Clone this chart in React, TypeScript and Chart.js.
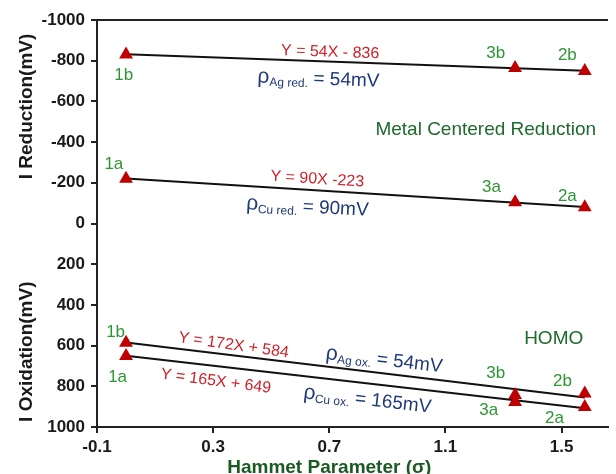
import React, { useEffect, useRef } from "react";
import { Chart, registerables } from "chart.js";
Chart.register(...registerables);

// Hammett sigma of the compounds 1, 3, 2
const hammettSigma = [0.0, 1.34, 1.58];
// Metal-centred reduction potentials (mV)
const agReduction = [-830, -764, -750];
const cuReduction = [-220, -104, -80];
// HOMO oxidation potentials (mV)
const agOxidation = [586, 843, 835];
const cuOxidation = [651, 877, 902];
// Trend lines (end points)
const fitSigma = [0.0, 1.58];
const agReductionFit = [-832, -751];
const cuReductionFit = [-221, -81];
const agOxidationFit = [585, 855];
const cuOxidationFit = [650, 908];

const xTicks = [-0.1, 0.3, 0.7, 1.1, 1.5];
const yTicks = [-1000, -800, -600, -400, -200, 0, 200, 400, 600, 800, 1000];

const FONT = '"Liberation Sans", Arial, sans-serif';
const RED = "#cc2229";
const BLUE = "#1f3a78";
const GREEN = "#2e9634";
const DKGREEN = "#1e6a2c";
const TITLE_GREEN = "#1b5a22";
const MARK = "#c00000";

type Part = { t: string; size: number; dy?: number };
type Note = { x: number; y: number; rot: number; color: string; parts: Part[] };

const lbl = (t: string, x: number, y: number): Note => ({ x, y, rot: 0, color: GREEN, parts: [{ t, size: 17 }] });
const eq = (t: string, x: number, y: number, rot: number): Note => ({ x, y, rot, color: RED, parts: [{ t, size: 16 }] });
const rho = (sub: string, rest: string, x: number, y: number, rot: number): Note => ({
  x, y, rot, color: BLUE,
  parts: [{ t: "ρ", size: 21 }, { t: sub, size: 12, dy: 3 }, { t: rest, size: 19 }],
});

const notes: Note[] = [
  lbl("1b", -0.008, -735), lbl("3b", 1.273, -843), lbl("2b", 1.52, -833),
  lbl("1a", -0.042, -297), lbl("3a", 1.259, -184), lbl("2a", 1.52, -140),
  lbl("1b", -0.036, 528), lbl("1a", -0.029, 749),
  lbl("3b", 1.273, 730), lbl("2b", 1.503, 769), lbl("3a", 1.249, 912), lbl("2a", 1.476, 951),
  { x: 1.239, y: -469, rot: 0, color: DKGREEN, parts: [{ t: "Metal Centered Reduction", size: 19 }] },
  { x: 1.473, y: 558, rot: 0, color: DKGREEN, parts: [{ t: "HOMO", size: 19 }] },
  eq("Y = 54X - 836", 0.703, -848, 2),
  eq("Y = 90X -223", 0.659, -224, 3.5),
  eq("Y = 172X + 584", 0.371, 592, 8),
  eq("Y = 165X + 649", 0.31, 769, 7.5),
  rho("Ag red.", " = 54mV", 0.663, -720, 2),
  rho("Cu red.", " = 90mV", 0.625, -91, 3),
  rho("Ag ox.", " = 54mV", 0.89, 661, 6.5),
  rho("Cu ox.", " = 165mV", 0.832, 857, 6.5),
];

function drawParts(ctx: CanvasRenderingContext2D, cx: number, cy: number, rot: number, parts: Part[], color: string, weight = "normal") {
  ctx.save();
  ctx.translate(cx, cy);
  ctx.rotate((rot * Math.PI) / 180);
  let total = 0;
  const widths = parts.map((p) => {
    ctx.font = `${weight} ${p.size}px ${FONT}`;
    const w = ctx.measureText(p.t).width;
    total += w;
    return w;
  });
  const main = Math.max(...parts.map((p) => p.size));
  const base = main * 0.36;
  let x = -total / 2;
  ctx.fillStyle = color;
  ctx.textBaseline = "alphabetic";
  ctx.textAlign = "left";
  parts.forEach((p, i) => {
    ctx.font = `${weight} ${p.size}px ${FONT}`;
    ctx.fillText(p.t, x, base + (p.dy || 0));
    x += widths[i];
  });
  ctx.restore();
}

const decorPlugin = {
  id: "decor",
  afterDatasetsDraw(chart: any) {
    const ctx = chart.ctx as CanvasRenderingContext2D;
    const { left, right, top } = chart.chartArea;
    const xs = chart.scales.x;
    const ys = chart.scales.y;
    ctx.save();
    ctx.strokeStyle = "#222";
    ctx.lineWidth = 2;
    ctx.beginPath();
    ctx.moveTo(left, top);
    ctx.lineTo(right, top);
    ctx.stroke();
    ctx.restore();
    notes.forEach((n) => {
      drawParts(ctx, xs.getPixelForValue(n.x), ys.getPixelForValue(n.y), n.rot, n.parts, n.color);
    });
    // axis titles
    drawParts(ctx, left - 72, ys.getPixelForValue(-575), -90, [{ t: "I Reduction(mV)", size: 19 }], "#1a1a1a", "bold");
    drawParts(ctx, left - 72, ys.getPixelForValue(630), -90, [{ t: "I Oxidation(mV)", size: 19 }], "#1a1a1a", "bold");
    drawParts(ctx, xs.getPixelForValue(0.7), chart.height - 8, 0, [{ t: "Hammet Parameter (σ)", size: 19 }], TITLE_GREEN, "bold");
  },
};

export default function App() {
  const ref = useRef<HTMLCanvasElement>(null);
  useEffect(() => {
    if (!ref.current) return;
    const pts = (ys: number[]) => hammettSigma.map((x, i) => ({ x, y: ys[i] }));
    const fit = (ys: number[]) => fitSigma.map((x, i) => ({ x, y: ys[i] }));
    const markerDs = (label: string, ys: number[]) => ({
      label, data: pts(ys), showLine: false, pointStyle: "triangle", pointRadius: 8,
      pointBackgroundColor: MARK, pointBorderColor: MARK, pointBorderWidth: 0, order: 0,
    });
    const lineDs = (label: string, ys: number[]) => ({
      label, data: fit(ys), showLine: true, borderColor: "#111", borderWidth: 2, pointRadius: 0, fill: false, order: 1,
    });
    const tickFont = { family: FONT, size: 17, weight: "bold" as const };
    const chart = new Chart(ref.current, {
      type: "scatter",
      data: {
        datasets: [
          lineDs("Ag red. fit", agReductionFit),
          lineDs("Cu red. fit", cuReductionFit),
          lineDs("Ag ox. fit", agOxidationFit),
          lineDs("Cu ox. fit", cuOxidationFit),
          markerDs("Ag reduction", agReduction),
          markerDs("Cu reduction", cuReduction),
          markerDs("Ag oxidation", agOxidation),
          markerDs("Cu oxidation", cuOxidation),
        ] as any,
      },
      options: {
        animation: false,
        responsive: false,
        layout: { padding: { top: 20, right: 0, left: 0, bottom: 0 } },
        plugins: { legend: { display: false }, tooltip: { enabled: false } },
        scales: {
          x: {
            type: "linear",
            min: -0.1,
            max: 1.66,
            afterBuildTicks: (s: any) => { s.ticks = xTicks.map((v) => ({ value: v })); },
            afterFit: (s: any) => { s.height = 47; },
            ticks: { font: tickFont, color: "#1a1a1a", padding: 4, maxRotation: 0, callback: (v: any) => String(v) },
            grid: { drawOnChartArea: false, drawTicks: true, tickLength: 6, color: "#222", lineWidth: 2 },
            border: { display: true, color: "#222", width: 2 },
          },
          y: {
            type: "linear",
            reverse: true,
            min: -1000,
            max: 1000,
            afterBuildTicks: (s: any) => { s.ticks = yTicks.map((v) => ({ value: v })); },
            afterFit: (s: any) => { s.width = 97; },
            ticks: { font: tickFont, color: "#1a1a1a", padding: 6, callback: (v: any) => String(v) },
            grid: { drawOnChartArea: false, drawTicks: true, tickLength: 6, color: "#222", lineWidth: 2 },
            border: { display: true, color: "#222", width: 2 },
          },
        },
      },
      plugins: [decorPlugin],
    } as any);
    return () => chart.destroy();
  }, []);
  return (
    <div style={{ position: "fixed", left: 0, top: 0, width: 616, height: 474, background: "#fff" }}>
      <canvas ref={ref} width={616} height={474} style={{ display: "block" }} />
    </div>
  );
}
